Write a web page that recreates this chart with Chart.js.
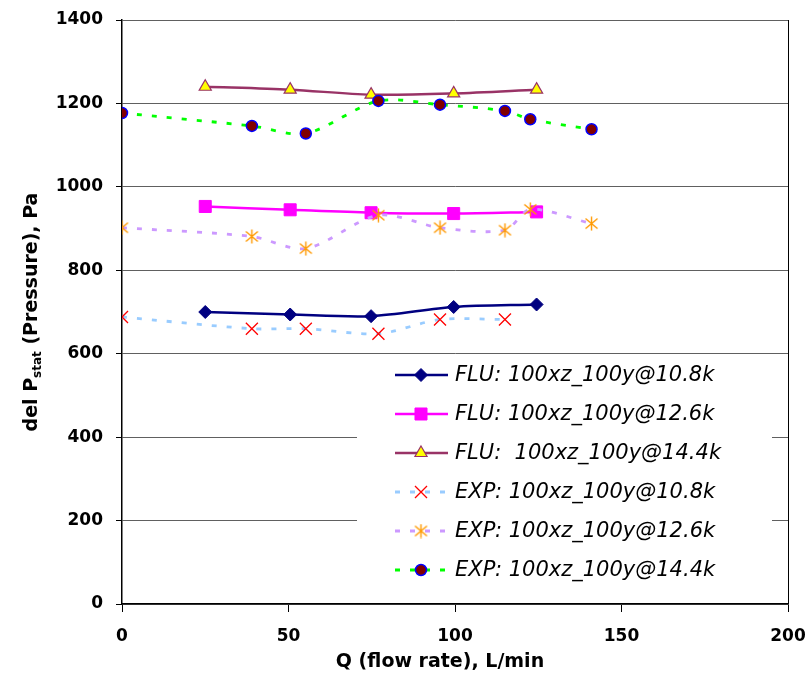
<!DOCTYPE html>
<html>
<head>
<meta charset="utf-8">
<script src="https://cdn.jsdelivr.net/npm/chart.js@4.4.0/dist/chart.umd.min.js"></script>
<style>
    html, body { margin: 0; padding: 0; background: #fff; }
    #wrap { width: 809px; height: 682px; }
</style>
</head>
<body>
<div id="wrap"><canvas id="pressureChart" width="809" height="682"></canvas></div>
<script>
// DATA
const fluFlow = [25, 50.5, 74.8, 99.6, 124.5];
const expFlow = [0, 39, 55.2, 77, 95.5, 115, 122.6, 141];

const flu108 = [700, 694, 690, 712, 718];
const flu126 = [953, 945, 938, 936, 940];
const flu144 = [1240, 1233, 1221, 1224, 1233];

const exp108 = [688, 660, 660, 648, 682, 682];
const exp126 = [902, 881, 852, 932, 902, 896, 946, 912];
const exp144 = [1177, 1146, 1128, 1206, 1197, 1182, 1162, 1138];

const seriesLabels = [
    'FLU: 100xz_100y@10.8k',
    'FLU: 100xz_100y@12.6k',
    'FLU:  100xz_100y@14.4k',
    'EXP: 100xz_100y@10.8k',
    'EXP: 100xz_100y@12.6k',
    'EXP: 100xz_100y@14.4k'
];

const xMin = 0, xMax = 200, xStep = 50;
const yMin = 0, yMax = 1400, yStep = 200;

const xTitle = 'Q (flow rate), L/min';
const yTitleParts = ['del P', 'stat', ' (Pressure), Pa'];

const toPoints = (xs, ys) => ys.map((y, i) => ({ x: xs[i], y: y }));

// asterisk marker like the Excel one (X plus vertical bar)
const makeAsterisk = (color) => {
    const c = document.createElement('canvas');
    c.width = 15; c.height = 15;
    const g = c.getContext('2d');
    g.strokeStyle = color;
    g.lineWidth = 1.4;
    g.beginPath();
    g.moveTo(7.5, 0.5); g.lineTo(7.5, 14.5);
    g.moveTo(1.5, 2.5); g.lineTo(13.5, 12.5);
    g.moveTo(13.5, 2.5); g.lineTo(1.5, 12.5);
    g.stroke();
    return c;
};
const asterisk = makeAsterisk('#FF9900');

const tickFont = { family: 'DejaVu Sans', weight: 'bold', size: 17 };

const datasets = [
    {
        label: seriesLabels[0], data: toPoints(fluFlow, flu108),
        borderColor: '#000080', backgroundColor: '#000080', borderWidth: 2.5,
        pointStyle: 'rectRot', pointRadius: 6.5, pointBorderWidth: 1, order: 6
    },
    {
        label: seriesLabels[1], data: toPoints(fluFlow, flu126),
        borderColor: '#FF00FF', backgroundColor: '#FF00FF', borderWidth: 2.5,
        pointStyle: 'rect', pointRadius: 8.5, pointBorderWidth: 1, order: 5
    },
    {
        label: seriesLabels[2], data: toPoints(fluFlow, flu144),
        borderColor: '#993366', backgroundColor: '#FFFF00', borderWidth: 2.5,
        pointStyle: 'triangle', pointRadius: 7, pointBorderWidth: 1.2, order: 4
    },
    {
        label: seriesLabels[3], data: toPoints(expFlow, exp108),
        borderColor: '#99CCFF', backgroundColor: '#FF0000', borderWidth: 2.8, borderDash: [5, 10],
        pointStyle: 'crossRot', pointRadius: 8.5, pointBorderColor: '#FF0000', pointBorderWidth: 1.3, order: 3
    },
    {
        label: seriesLabels[4], data: toPoints(expFlow, exp126),
        borderColor: '#CC99FF', backgroundColor: '#FF9900', borderWidth: 2.8, borderDash: [5, 10],
        pointStyle: asterisk, pointRadius: 7, order: 2
    },
    {
        label: seriesLabels[5], data: toPoints(expFlow, exp144),
        borderColor: '#00FF00', backgroundColor: '#800000', borderWidth: 2.8, borderDash: [5, 10],
        pointStyle: 'circle', pointRadius: 5.5, pointBorderColor: '#0000FF', pointBorderWidth: 1.5, order: 1
    }
];
datasets.forEach(d => {
    d.showLine = true;
    d.tension = 0.3;
    d.pointBackgroundColor = d.backgroundColor;
    if (!d.pointBorderColor) d.pointBorderColor = d.borderColor;
});

// legend box, axis titles and right border
const extras = {
    id: 'extras',
    afterDraw(chart) {
        const ctx = chart.ctx;
        const area = chart.chartArea;
        ctx.save();

        // right border of plot area
        ctx.strokeStyle = '#000';
        ctx.lineWidth = 1;
        ctx.beginPath();
        ctx.moveTo(area.right + 0.5, area.top);
        ctx.lineTo(area.right + 0.5, area.bottom);
        ctx.stroke();

        // legend
        ctx.fillStyle = '#fff';
        ctx.fillRect(357, 357, 415, 230);
        const rowTop = 375, rowGap = 39;
        chart.data.datasets.forEach((ds, i) => {
            const y = rowTop + i * rowGap;
            ctx.save();
            ctx.strokeStyle = ds.borderColor;
            ctx.lineWidth = ds.borderWidth;
            ctx.setLineDash(ds.borderDash || []);
            ctx.beginPath();
            ctx.moveTo(395, y);
            ctx.lineTo(448, y);
            ctx.stroke();
            ctx.restore();

            ctx.save();
            ctx.fillStyle = ds.pointBackgroundColor;
            ctx.strokeStyle = ds.pointBorderColor;
            ctx.lineWidth = ds.pointBorderWidth || 1;
            Chart.helpers.drawPoint(ctx, {
                pointStyle: ds.pointStyle, radius: ds.pointRadius,
                rotation: 0, borderWidth: ds.pointBorderWidth || 1
            }, 421, y);
            ctx.restore();

            ctx.fillStyle = '#000';
            ctx.font = 'italic 21px "DejaVu Sans"';
            ctx.textAlign = 'left';
            ctx.textBaseline = 'middle';
            ctx.fillText(ds.label, 455, y + 1);
        });

        // x title
        ctx.fillStyle = '#000';
        ctx.font = 'bold 19px "DejaVu Sans"';
        ctx.textAlign = 'center';
        ctx.textBaseline = 'middle';
        ctx.fillText(xTitle, 440, 662);

        // y title with subscript
        ctx.translate(30, (area.top + area.bottom) / 2);
        ctx.rotate(-Math.PI / 2);
        const mainFont = 'bold 19px "DejaVu Sans"';
        const subFont = 'bold 12px "DejaVu Sans"';
        ctx.font = mainFont;
        const w0 = ctx.measureText(yTitleParts[0]).width;
        const w2 = ctx.measureText(yTitleParts[2]).width;
        ctx.font = subFont;
        const w1 = ctx.measureText(yTitleParts[1]).width;
        let x = -(w0 + w1 + w2) / 2;
        ctx.textAlign = 'left';
        ctx.textBaseline = 'alphabetic';
        ctx.font = mainFont;
        ctx.fillText(yTitleParts[0], x, 7);
        x += w0;
        ctx.font = subFont;
        ctx.fillText(yTitleParts[1], x, 11);
        x += w1;
        ctx.font = mainFont;
        ctx.fillText(yTitleParts[2], x, 7);

        ctx.restore();
    }
};

const ctx = document.getElementById('pressureChart');
const pressureChart = new Chart(ctx, {
    type: 'scatter',
    data: { datasets: datasets },
    options: {
        responsive: false,
        animation: false,
        devicePixelRatio: 1,
        layout: { padding: { left: 0, top: 20, right: 21, bottom: 0 } },
        plugins: {
            legend: { display: false },
            tooltip: { enabled: false }
        },
        scales: {
            x: {
                type: 'linear', min: xMin, max: xMax,
                ticks: {
                    stepSize: xStep, color: '#000', font: tickFont, padding: 14, maxRotation: 0,
                    callback: (v) => String(v)
                },
                grid: { drawOnChartArea: false, color: '#000', tickColor: '#000', tickLength: 8 },
                border: { color: '#000', width: 1.5 },
                afterFit: (scale) => {
                    scale.height = 78;
                    scale.paddingLeft = 0;
                    scale.paddingRight = 0;
                }
            },
            y: {
                type: 'linear', min: yMin, max: yMax,
                ticks: {
                    stepSize: yStep, color: '#000', font: tickFont, padding: 13,
                    callback: (v) => String(v)
                },
                grid: { color: '#606060', tickColor: '#000', tickLength: 6 },
                border: { color: '#000', width: 1.5 },
                afterFit: (scale) => {
                    scale.width = 122;
                    scale.paddingTop = 0;
                    scale.paddingBottom = 0;
                }
            }
        }
    },
    plugins: [extras]
});
</script>
</body>
</html>
